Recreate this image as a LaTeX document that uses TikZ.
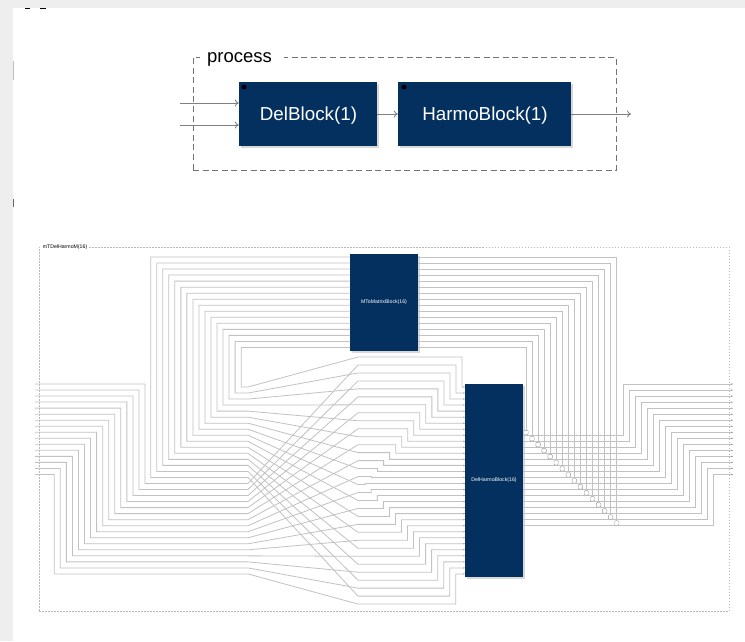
\documentclass[tikz,border=0pt]{standalone}
\usepackage{fontspec}
\setmainfont{Liberation Sans}
\usetikzlibrary{arrows.meta,shadows}
\definecolor{blockblue}{HTML}{03305F}
\definecolor{pagegrey}{HTML}{EEEEEE}

\begin{document}
\begin{tikzpicture}[x=1pt,y=-1pt]
\tikzstyle{every node}=[inner sep=0pt]
\tikzstyle{block}=[rectangle,fill=blockblue,text=white,drop shadow={shadow xshift=1.5pt,shadow yshift=-1.5pt,fill=black!30}]
\tikzstyle{bigframe}=[rectangle,draw=black!55,line width=1pt,dash pattern=on 6pt off 3.6pt]
\tikzstyle{smallframe}=[rectangle,draw=black!28,line width=.7pt,dash pattern=on 1.5pt off 1.5pt]
\tikzstyle{bigarrow}=[draw=black!50,line width=.9pt,-{To[length=4pt,width=7pt]}]
\tikzstyle{wire}=[draw=black!24,line width=.8pt]
\tikzstyle{portwire}=[wire,-{Latex[length=1.5pt,width=1.3pt,black!55]}]
\tikzstyle{arch}=[rectangle,draw=black!40,fill=white,line width=.4pt,rounded corners=1pt,minimum width=4.5pt,minimum height=4.5pt,anchor=south]

\useasboundingbox (0,0) rectangle (745,641);
\fill[pagegrey] (0,0) rectangle (745,641);
\fill[white] (13,8) rectangle (745,641);
\fill[black] (25,8) rectangle (30,9);
\fill[black] (40,8) rectangle (46,9);
\fill[black!25] (13,61) rectangle (14,80);
\fill[black!60] (13,199) rectangle (14,207);

% process
\node[bigframe,minimum width=423pt,minimum height=113pt] (procframe) at (404.5,113.5) {};
\node[fill=white,minimum width=84pt,minimum height=14pt] (proclabel) at (242,57) {};
\node[font=\fontsize{18.5}{20}\selectfont] (proctext) at (239.5,59.5) {process};
\node[block,minimum width=138pt,minimum height=64pt] (delblock) at (308,114) {};
\node[block,minimum width=173pt,minimum height=64pt] (harmoblock) at (484.5,114) {};
\node[text=white,font=\fontsize{18.8}{20}\selectfont] (deltext) at (308.5,115.5) {DelBlock(1)};
\node[text=white,font=\fontsize{18.8}{20}\selectfont] (harmotext) at (485,115.5) {HarmoBlock(1)};
\node[circle,fill=black,minimum size=5pt] (deldot) at (244,87) {};
\node[circle,fill=black,minimum size=5pt] (harmodot) at (404,87) {};
\coordinate (in1) at (180,103);
\coordinate (in2) at (180,125);
\coordinate (out) at (631,114);
\draw[bigarrow] (in1) -- (in1-|delblock.west);
\draw[bigarrow] (in2) -- (in2-|delblock.west);
\draw[bigarrow] (delblock) -- (harmoblock);
\draw[bigarrow] (harmoblock) -- (out);

% mTDelHarmoM
\node[smallframe,minimum width=690pt,minimum height=364pt] (modframe) at (384,429) {};
\node[fill=white,minimum width=48pt,minimum height=5pt,font=\fontsize{5.2}{6}\selectfont] (modlabel) at (65,247.6) {mTDelHarmoM(16)};
\node[block,minimum width=68pt,minimum height=97pt,font=\fontsize{5.2}{6}\selectfont] (matrixblock) at (384,302.5) {MToMatrixBlock(16)};
\node[block,minimum width=58pt,minimum height=193pt,font=\fontsize{5.2}{6}\selectfont] (harmoblock16) at (494,480.5) {DelHarmoBlock(16)};

% shuffle columns
\foreach \i in {0,...,31} {
  \coordinate (sl\i) at (248,{387+6.03*\i});
  \coordinate (sr\i) at (358,{357+7.97*\i});
  \coordinate (dp\i) at (465,{387+6.03*\i});
}
% into the lower block
\foreach \n in {0,...,15} {
  \pgfmathtruncatemacro{\m}{\n+16}
  \coordinate (dv\n) at ({462-6.03*\n},{357+7.97*\n});
  \coordinate (dv\m) at ({365.3+6.03*\n},{357+7.97*\m});
}
% module inputs
\foreach \i in {0,...,15} {
  \pgfmathtruncatemacro{\k}{\i+16}
  \pgfmathtruncatemacro{\n}{2*\i+1}
  \coordinate (min\i) at (35,{384+6.03*\i});
  \coordinate (minv\i) at ({145-6.05*\i},{384+6.03*\i});
  \draw[portwire] (min\i) -- (minv\i) |- (sl\k) -- (sr\n) -- (dv\n) |- (dp\n);
}
% matrix inputs
\foreach \j in {0,...,15} {
  \pgfmathtruncatemacro{\k}{15-\j}
  \pgfmathtruncatemacro{\n}{2*\k}
  \coordinate (mi\j) at (350,{257+6.03*\j});
  \coordinate (miv\j) at ({150.7+6.03*\j},{257+6.03*\j});
  \draw[portwire] (mi\j) -- (miv\j) |- (sl\k) -- (sr\n) -- (dv\n) |- (dp\n);
}
% module outputs
\foreach \i in {0,...,15} {
  \coordinate (do\i) at (523,{435+6.03*\i});
  \coordinate (dov\i) at ({623+6.02*\i},{435+6.03*\i});
  \coordinate (mout\i) at (733,{384+6.03*\i});
  \draw[portwire] (do\i) -- (dov\i) |- (mout\i);
}
% matrix outputs
\foreach \j in {0,...,15} {
  \pgfmathtruncatemacro{\i}{15-\j}
  \coordinate (mo\j) at (418,{257+6.03*\j});
  \node[arch] (jn\j) at ({616.7-6.05*\j},{435+6.03*\i}) {};
  \draw[wire] (mo\j) -| (jn\j.north);
}
\end{tikzpicture}
\end{document}
